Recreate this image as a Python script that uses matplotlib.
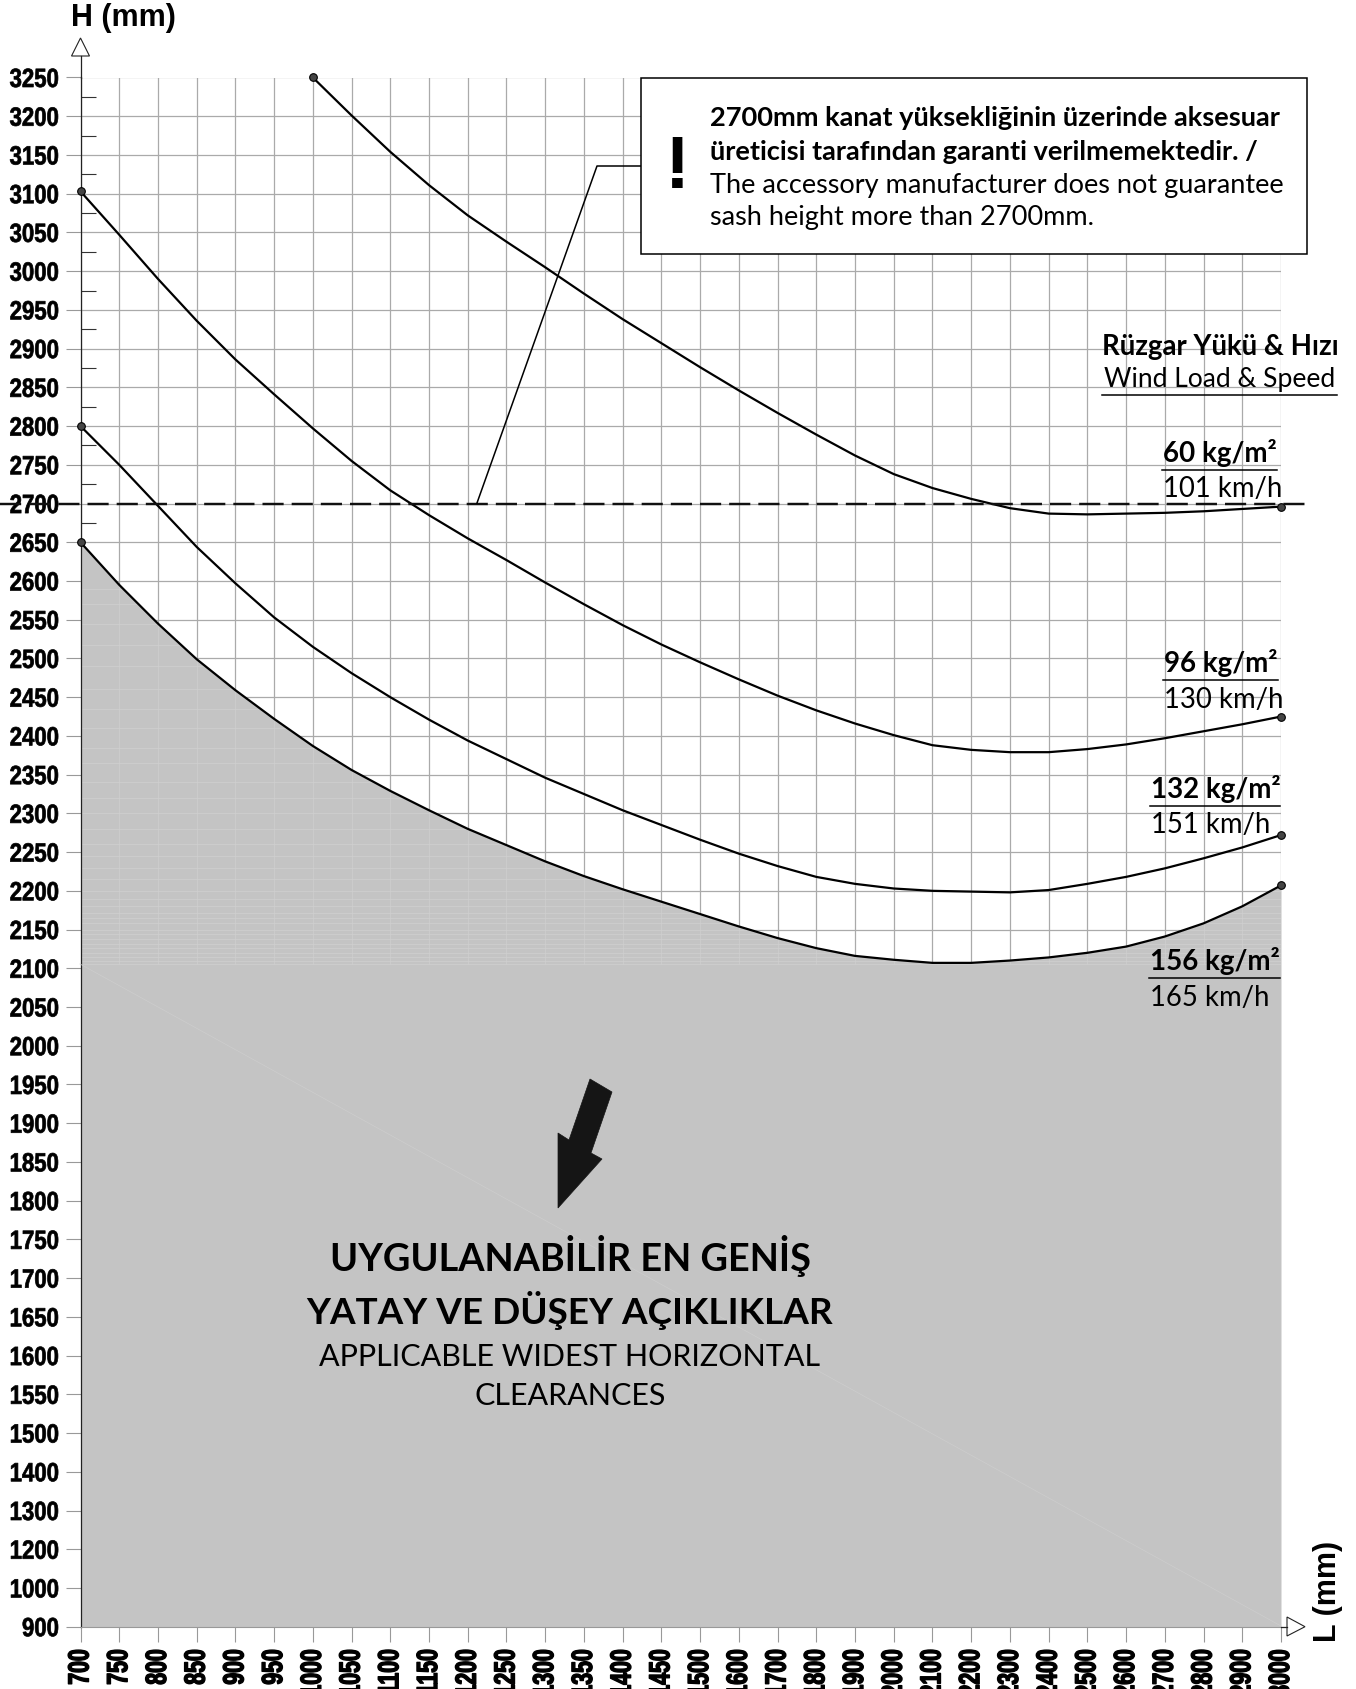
import numpy as np
import matplotlib
matplotlib.use("Agg")
import matplotlib.pyplot as plt
from matplotlib.lines import Line2D
from matplotlib.patches import Polygon, Rectangle
from matplotlib.patheffects import AbstractPathEffect
from matplotlib.transforms import Affine2D

W, H = 1356, 1689

# axis ticks, not evenly spaced in mm but evenly spaced on the sheet
x_ticks = [700, 750, 800, 850, 900, 950, 1000, 1050, 1100, 1150, 1200, 1250, 1300, 1350, 1400, 1450,
           1500, 1600, 1700, 1800, 1900, 2000, 2100, 2200, 2300, 2400, 2500, 2600, 2700, 2800, 2900, 3000]
y_ticks = [900, 1000, 1200, 1300, 1400, 1500, 1550, 1600, 1650, 1700, 1750, 1800, 1850, 1900, 1950, 2000,
           2050, 2100, 2150, 2200, 2250, 2300, 2350, 2400, 2450, 2500, 2550, 2600, 2650, 2700, 2750, 2800,
           2850, 2900, 2950, 3000, 3050, 3100, 3150, 3200, 3250]
y_minor = [2675, 2725, 2775, 2825, 2875, 2925, 2975, 3025, 3075, 3125, 3175, 3225]

# curves
l_60 = x_ticks[6:]
h_60 = [3250, 3201, 3154, 3111, 3072, 3038, 3005, 2971, 2938, 2907, 2876, 2846, 2817, 2789, 2762, 2738,
        2720, 2706, 2694, 2687, 2686, 2687, 2688, 2690, 2693, 2696]
h_96 = [3103, 3047, 2990, 2936, 2886, 2841, 2797, 2755, 2717, 2685, 2655, 2627, 2598, 2570, 2543, 2518,
        2495, 2473, 2452, 2433, 2416, 2401, 2388, 2382, 2379, 2379, 2383, 2389, 2397, 2406, 2415, 2425]
h_132 = [2800, 2750, 2697, 2644, 2597, 2553, 2515, 2481, 2450, 2421, 2394, 2370, 2346, 2325, 2304, 2285,
         2266, 2248, 2232, 2218, 2209, 2203, 2200, 2199, 2198, 2201, 2209, 2218, 2229, 2242, 2256, 2272]
h_156 = [2650, 2595, 2545, 2499, 2459, 2422, 2387, 2356, 2329, 2304, 2280, 2259, 2238, 2219, 2202, 2186,
         2170, 2154, 2139, 2126, 2116, 2111, 2107, 2107, 2110, 2114, 2120, 2128, 2141, 2158, 2180, 2207]

# pale streaks in the shaded area
streaks = [2590, 2570, 2545, 2518, 2490, 2460, 2435, 2410, 2385, 2365, 2340, 2320, 2300, 2280, 2260, 2245,
           2230, 2215, 2200, 2190, 2180, 2172, 2165, 2158, 2150, 2144, 2138, 2131, 2126, 2120, 2115, 2110, 2106]

note_lines = ["2700mm kanat yüksekliğinin üzerinde aksesuar",
              "üreticisi tarafından garanti verilmemektedir. /",
              "The accessory manufacturer does not guarantee",
              "sash height more than 2700mm."]
wind_loads = ["60 kg/m²", "96 kg/m²", "132 kg/m²", "156 kg/m²"]
wind_speeds = ["101 km/h", "130 km/h", "151 km/h", "165 km/h"]

sans = ["Liberation Sans"]
body = ["Lato", "DejaVu Sans"]


class Squeeze(AbstractPathEffect):
    # no narrow font here, so squeeze the glyphs along the baseline, keeping the end of the string put
    def __init__(self, factor, stroke=0.7):
        super().__init__()
        self.factor = factor
        self.stroke = stroke

    def draw_path(self, renderer, gc, tpath, affine, rgbFace=None):
        end = tpath.get_extents().x1
        squeeze = Affine2D().translate(-end, 0).scale(self.factor, 1).translate(end, 0)
        gc0 = renderer.new_gc()
        gc0.copy_properties(gc)
        gc0.set_linewidth(self.stroke)
        gc0.set_foreground("black")
        renderer.draw_path(gc0, tpath, squeeze + affine, rgbFace)
        gc0.restore()


def fx(x):
    return x / W


def fy(y):
    return 1 - y / H


fig = plt.figure(figsize=(W / 100, H / 100), dpi=100)
ax = fig.add_axes([fx(80.5), fy(1626.7), (1281 - 80.5) / W, (1626.7 - 77.5) / H])

x_pos = np.arange(len(x_ticks))
y_pos = np.arange(len(y_ticks))
ax.set_xscale("function", functions=(lambda v: np.interp(v, x_ticks, x_pos), lambda p: np.interp(p, x_pos, x_ticks)))
ax.set_yscale("function", functions=(lambda v: np.interp(v, y_ticks, y_pos), lambda p: np.interp(p, y_pos, y_ticks)))
ax.set_xlim(700, 3000)
ax.set_ylim(900, 3250)

ax.set_xticks(x_ticks, [str(v) for v in x_ticks], rotation=90, family=sans, fontweight="bold", fontsize=21)
ax.set_yticks(y_ticks, [str(v) for v in y_ticks], family=sans, fontweight="bold", fontsize=19)
ax.set_yticks(y_minor, minor=True)
for lab in ax.get_xticklabels():
    lab.set_va("top")
    lab.set_ha("center")
    lab.set_path_effects([Squeeze(0.73, 1.0)])
for lab in ax.get_yticklabels():
    lab.set_path_effects([Squeeze(0.84, 0.5)])
ax.tick_params(axis="x", length=10.5, width=0.8, color="#999999", pad=5.5)
ax.tick_params(axis="y", length=10.5, width=0.8, color="#999999", pad=5)
ax.tick_params(axis="y", which="minor", direction="in", length=10.5, width=0.8, color="#333333")
ax.grid(True, color="#aaaaaa", linewidth=0.9)
ax.set_axisbelow(True)
for name in ["top", "right"]:
    ax.spines[name].set_visible(False)
ax.spines["bottom"].set_color("#999999")
ax.spines["left"].set_color("#222222")
ax.spines["left"].set_linewidth(0.9)

shade = ax.fill_between(x_ticks, h_156, 900, color="#c4c4c4", linewidth=0, zorder=1)
clip = shade.get_paths()[0]
for s in streaks:
    line_, = ax.plot([700, 3000], [s, s], color="#d0d0d0", linewidth=0.5, zorder=1.1)
    line_.set_clip_path(clip, transform=ax.transData)
ghost = ax.vlines(x_ticks, 2105, h_156, color="#cdcdcd", linewidth=0.6, zorder=1.05)

for xs, ys in [(l_60, h_60), (x_ticks, h_96), (x_ticks, h_132), (x_ticks, h_156)]:
    ax.plot(xs, ys, color="black", linewidth=1.6, zorder=3, clip_on=False)
    ax.plot([xs[0], xs[-1]], [ys[0], ys[-1]], linestyle="none", marker="o", markersize=5.5,
            markerfacecolor="#444444", markeredgecolor="black", markeredgewidth=0.8, zorder=4, clip_on=False)

# 2700 limit, runs past both ends of the plot
ax.plot([-0.067, 1.022], [2700, 2700], transform=ax.get_yaxis_transform(), color="#111111",
        linewidth=1.75, dashes=(8.7, 3.3), zorder=5, clip_on=False)

# faint diagonal across the shading
fig.add_artist(Line2D([fx(80), fx(1281)], [fy(964), fy(1626)], color="#cdcdcd", linewidth=0.5))


def line(xs, ys, **kw):
    fig.add_artist(Line2D([fx(v) for v in xs], [fy(v) for v in ys], **kw))


def poly(points, **kw):
    fig.add_artist(Polygon([(fx(a), fy(b)) for a, b in points], closed=True, transform=fig.transFigure, **kw))


def txt(x, y, s, size, ha="left", weight="normal", family=body, **kw):
    fig.text(fx(x), fy(y), s, fontsize=size, ha=ha, va="center", fontweight=weight, family=family, **kw)


# axis arrows
line([80.5, 80.5], [56, 78], color="#222222", linewidth=0.9)
poly([(80.5, 38), (71.5, 56), (89.5, 56)], facecolor="white", edgecolor="#222222", linewidth=0.8)
line([1281, 1287], [1626.7, 1626.7], color="#222222", linewidth=0.9)
poly([(1305, 1626.7), (1287, 1617), (1287, 1636)], facecolor="white", edgecolor="#222222", linewidth=0.8)
txt(71, 18, "H (mm)", 22, weight="bold", family=sans)
fig.text(fx(1328), fy(1642), "L (mm)", fontsize=22, fontweight="bold", family=sans,
         rotation=90, ha="center", va="bottom")

# note box and its leader
fig.add_artist(Rectangle((fx(641), fy(254)), (1307 - 641) / W, (254 - 77.5) / H, transform=fig.transFigure,
                         facecolor="white", edgecolor="black", linewidth=1.1, zorder=6))
line([477, 597, 641], [503, 166, 166], color="black", linewidth=1.1)
fig.text(fx(677.5), fy(169), "!", fontsize=54, fontweight="bold", family=sans, ha="center", va="center", zorder=7)
note_y = [118, 151.5, 185, 217]
for i, s in enumerate(note_lines):
    txt(710, note_y[i], s, 19.6 if i < 2 else 19.5, weight="bold" if i < 2 else "normal", zorder=7)

# wind legend on the right
txt(1220, 347, "Rüzgar Yükü & Hızı", 19.9, ha="center", weight="bold")
txt(1220, 380, "Wind Load & Speed", 19.1, ha="center")
line([1102, 1337], [395, 395], color="black", linewidth=1.1)

load_x = [1163, 1164, 1151, 1150]
load_y = [453, 663, 789, 961]
rule_y = [470, 680, 806, 978]
speed_y = [489, 700, 825, 998]
rule_x = [1277, 1278, 1280, 1280]
for i in range(4):
    txt(load_x[i], load_y[i], wind_loads[i], 20, weight="bold")
    line([load_x[i] - 1, rule_x[i]], [rule_y[i], rule_y[i]], color="black", linewidth=1.1)
    txt(load_x[i], speed_y[i], wind_speeds[i], 19.8)

# arrow and caption in the shaded area
poly([(590, 1079), (612, 1092), (591, 1153), (602, 1159), (558, 1208), (558, 1133), (569, 1140)],
     facecolor="#151515", edgecolor="#151515", linewidth=0.5)
txt(570, 1256, "UYGULANABİLİR EN GENİŞ", 27.3, ha="center", weight="bold")
txt(570, 1310, "YATAY VE DÜŞEY AÇIKLIKLAR", 26.6, ha="center", weight="bold")
txt(570, 1357, "APPLICABLE WIDEST HORIZONTAL", 22, ha="center")
txt(570, 1396, "CLEARANCES", 22, ha="center")

fig.savefig("out.png", dpi=100)
